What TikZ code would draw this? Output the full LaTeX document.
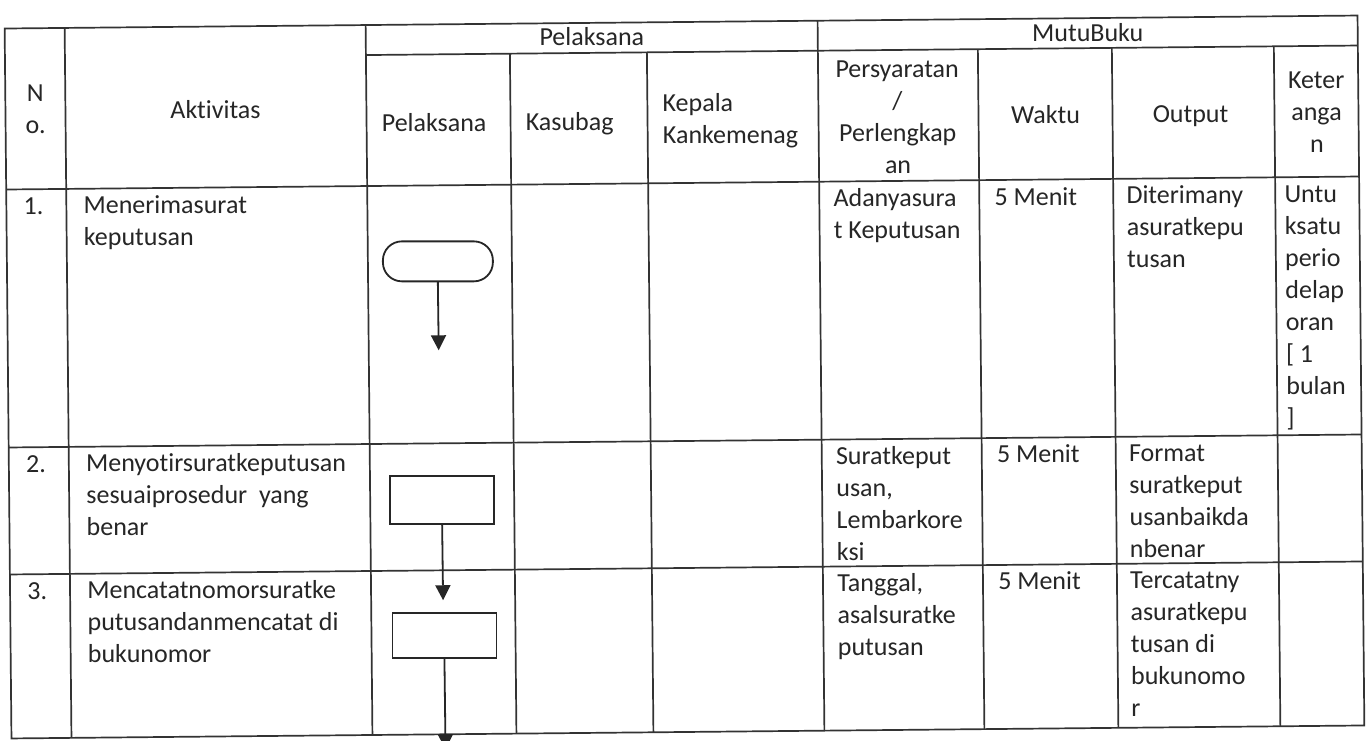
\documentclass[tikz,border=0pt]{standalone}
\usepackage{fontspec}
\setmainfont{Carlito}[Ligatures=NoCommon]
\usetikzlibrary{arrows.meta}
\definecolor{ink}{HTML}{262626}
\definecolor{rule}{HTML}{333333}
\newcommand\cellt[4]{\foreach \t [count=\i from 0] in {#4}{\node[txt] (#1-\i) at ({#2},{#3+32*\i}) {\t};}}
\newcommand\cellc[4]{\foreach \t [count=\i from 0] in {#4}{\node[ctxt] (#1-\i) at ({#2},{#3+32*\i}) {\t};}}
\begin{document}
\begin{tikzpicture}[x=1pt,y=-1pt,
  txt/.style={anchor=base west,inner sep=0pt,text=ink,font=\fontsize{26}{32}\selectfont},
  ctxt/.style={txt,anchor=base},
  gridline/.style={draw=rule,line width=1.7pt},
  box/.style={draw=ink,line width=1.8pt,inner sep=0pt,fill=white},
  arr/.style={draw=ink,line width=1.8pt,-{Triangle[width=15pt,length=15pt]}}]
\fill[white] (0,0) rectangle (1366,740);
\useasboundingbox (0,0) rectangle (1366,740);
\begin{scope}[rotate around={0.55:(683,377)}]
% grid
\draw[gridline] (8,22) rectangle (1361,732);
\draw[gridline] (369,52) -- (1361,52);
\draw[gridline] (8,183) -- (1361,183);
\draw[gridline] (8,441) -- (1361,441);
\draw[gridline] (8,568) -- (1361,568);
\draw[gridline] (68,22) -- (68,732);
\draw[gridline] (369,22) -- (369,732);
\draw[gridline] (821,22) -- (821,732);
\foreach \xx in {513,650,981,1115,1277} {\draw[gridline] (\xx,52) -- (\xx,732);}
% header
\node[ctxt] (hpel) at (595,45) {Pelaksana};
\node[ctxt] (hmutu) at (1091,45) {MutuBuku};
\cellc{hno}{38}{95}{N,o.}
\node[ctxt] (hakt) at (218,114) {Aktivitas};
\node[txt] (hpel2) at (384,129) {Pelaksana};
\node[txt] (hkas) at (528,129) {Kasubag};
\cellt{hkep}{665}{111}{Kepala,Kankemenag}
\cellc{hper}{900}{80}{Persyaratan,/,Perlengkap,an}
\node[ctxt] (hwak) at (1048,127) {Waktu};
\node[ctxt] (hout) at (1193,127) {Output};
\cellc{hket}{1319}{95}{Keter,anga,n}
% row 1
\node[txt] (n1) at (25,208) {1.};
\cellt{a1}{85}{208}{Menerimasurat,keputusan}
\cellt{p1}{835}{208}{Adanyasura,t Keputusan}
\node[txt] (w1) at (996,208) {5 Menit};
\cellt{o1}{1128}{208}{Diterimany,asuratkepu,tusan}
\cellt{k1}{1286}{208}{Untu,ksatu,perio,delap,oran,{[ 1},bulan,{]}}
% row 2
\node[txt] (n2) at (25,466) {2.};
\cellt{a2}{85}{466}{Menyotirsuratkeputusan,sesuaiprosedur~~yang,benar}
\cellt{p2}{835}{466}{Suratkeput,{usan,},Lembarkore,ksi}
\node[txt] (w2) at (996,466) {5 Menit};
\cellt{o2}{1128}{466}{Format,suratkeput,usanbaikda,nbenar}
% row 3
\node[txt] (n3) at (25,593) {3.};
\cellt{a3}{85}{593}{Mencatatnomorsuratke,putusandanmencatat di,bukunomor}
\cellt{p3}{835}{593}{{Tanggal,},asalsuratke,putusan}
\node[txt] (w3) at (996,593) {5 Menit};
\cellt{o3}{1128}{593}{Tercatatny,asuratkepu,tusan di,bukunomo,r}
% flow
\node[box,minimum width=110pt,minimum height=40pt,rounded corners=19pt] (term) at (439,259) {};
\node[box,minimum width=104pt,minimum height=48pt] (r2) at (441,498) {};
\node[box,minimum width=104pt,minimum height=45pt] (r3) at (442,633.5) {};
\coordinate (e1) at (439,348);
\coordinate (e2) at (441,598);
\coordinate (e3) at (442,747);
\draw[arr] (term.south) -- (e1);
\draw[arr] (r2.south) -- (e2);
\draw[arr] (r3.south) -- (e3);
\end{scope}
\end{tikzpicture}
\end{document}
